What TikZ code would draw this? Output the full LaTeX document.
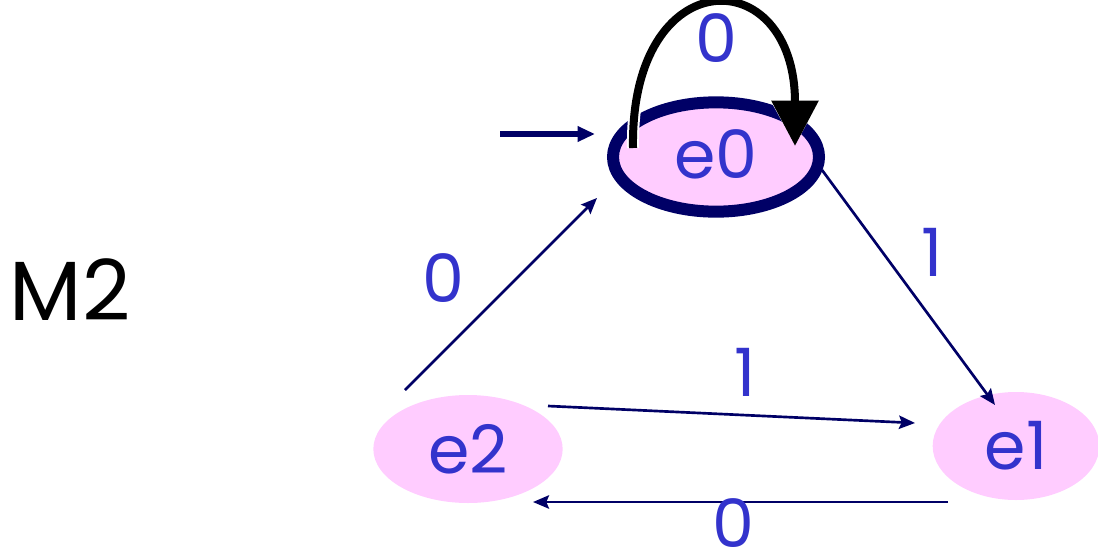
\documentclass[tikz,border=0pt]{standalone}
\usepackage{fontspec}
\setmainfont{Poppins}
\usetikzlibrary{arrows.meta,shapes.geometric}
\definecolor{navy}{HTML}{000066}
\definecolor{statepink}{HTML}{FFCCFF}
\definecolor{digitblue}{HTML}{3333CC}
\tikzset{
  statenode/.style={ellipse,fill=statepink,text=digitblue,inner sep=0pt,
                    font=\fontsize{50}{50}\selectfont},
  trans/.style={-{Stealth[length=12pt,width=10pt,inset=2pt]},navy,line width=2pt},
  translabel/.style={text=digitblue,inner sep=1pt,font=\fontsize{50}{50}\selectfont}
}

\begin{document}
\begin{tikzpicture}[x=0.75pt,y=-0.75pt]
  \useasboundingbox (0,0) rectangle (1098,557);

  % states
  \node[statenode,draw=navy,line width=9pt,minimum width=154.5pt,minimum height=82pt]
       (e0) at (716,157) {\raisebox{5pt}{e0}};
  \node[statenode,minimum width=142pt,minimum height=81pt] (e2) at (468,449)
       {\raisebox{-6pt}{e2}};
  \node[statenode,minimum width=125pt,minimum height=81pt] (e1) at (1016,446)
       {\raisebox{-6pt}{e1}};

  \node[font=\fontsize{63}{63}\selectfont] (name) at (70,290) {M2};

  % initial arrow
  \coordinate (start) at (500,134);
  \draw[-{Triangle[length=13pt,width=11pt]},navy,line width=4.5pt]
       (start) -- ([shift={(-121,-23)}]e0.center);

  % self loop on e0
  \draw[-{Triangle[length=34pt,width=34pt]},black,line width=6pt,
        preaction={draw=white,line width=9pt}]
       ([shift={(-83,-9)}]e0.center) .. controls (630,-40) and (795,-40)
       .. ([shift={(79,-11)}]e0.center);
  \node[translabel,fill=white] (l00) at (716,38) {0};

  % transitions
  \draw[trans] ([shift={(-63,-59)}]e2.center) -- ([shift={(-119,41)}]e0.center);
  \node[translabel] (l20) at (443,278) {0};

  \draw[trans] ([shift={(106,13)}]e0.center) -- ([shift={(-21,-41)}]e1.center);
  \node[translabel] (l01) at (932,252) {1};

  \draw[trans] ([shift={(80,-43)}]e2.center) -- ([shift={(-101,-23)}]e1.center);
  \node[translabel] (l21) at (745,372) {1};

  \draw[trans] ([shift={(-68,56)}]e1.center) -- ([shift={(65,53)}]e2.center);
  \node[translabel,inner sep=0pt,text depth=0pt,anchor=south] (l12) at (733,548) {0};
\end{tikzpicture}
\end{document}
